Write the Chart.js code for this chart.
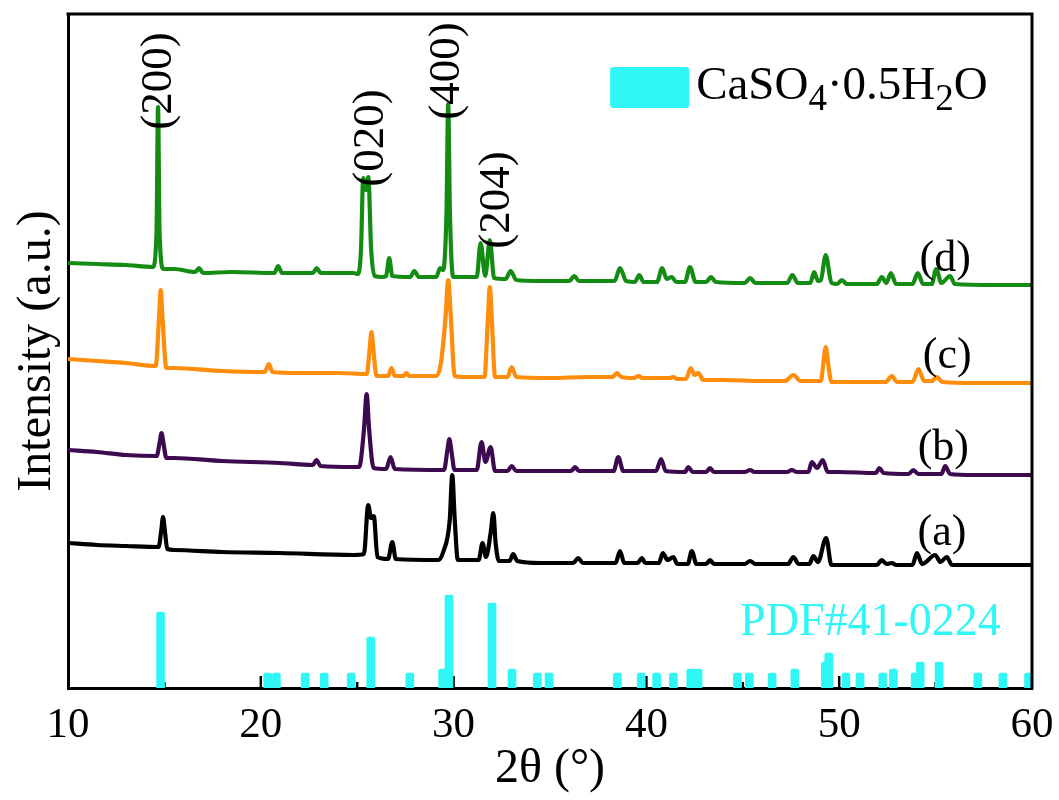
<!DOCTYPE html>
<html>
<head>
<meta charset="utf-8">
<script src="https://cdn.jsdelivr.net/npm/chart.js@4.4.1/dist/chart.umd.min.js"></script>
<style>
  body { margin: 0; background: #fff; }
</style>
</head>
<body>
<canvas id="xrd" width="1059" height="800"></canvas>
<script>
// 2theta (deg) / intensity (a.u., already stacked)
const sampleA = [[10,145],[11.5,143],[13,142],[14.7,141],[14.84,158],[14.93,171],[15.02,158],[15.15,139],[15.5,138],[18,136],[21,135],[24.8,133],[25.35,134],[25.57,183],[25.72,170],[25.86,172],[26.05,131],[26.6,129],[26.82,146],[27.0,129],[29.2,128],[29.46,136],[29.8,168],[29.93,213],[30.06,168],[30.22,128],[31.3,128],[31.5,145],[31.68,131],[31.92,155],[32.06,175],[32.18,145],[32.35,127],[32.9,127],[33.09,134],[33.3,127],[34.5,125],[36.2,125],[36.47,130],[36.7,125],[38.4,125],[38.63,137],[38.85,125],[39.55,125],[39.76,130],[39.95,125],[40.65,125],[40.85,135],[41.1,128],[41.4,131],[41.6,124],[42.15,124],[42.35,137],[42.6,124],[43.1,124],[43.3,128],[43.5,124],[45.1,124],[45.38,127],[45.65,124],[47.35,124],[47.62,131],[47.9,124],[48.45,124],[48.66,132],[48.9,126],[49.32,150],[49.6,123],[50.5,123],[51.95,123],[52.21,128],[52.45,124],[52.73,125],[52.95,123],[53.8,123],[54.03,135],[54.3,124],[54.98,133],[55.25,126],[55.58,131],[55.85,123],[57,123],[60,123]]

const sampleB = [[10,238],[11.5,236],[13,233],[14.6,232],[14.75,245],[14.85,255],[14.95,245],[15.1,230],[15.5,230],[18,227],[21,225],[22.7,223],[22.89,228],[23.1,222],[24.8,221],[25.1,221],[25.35,258],[25.49,294],[25.62,258],[25.85,220],[26.5,219],[26.73,231],[26.95,219],[29.5,218],[29.68,238],[29.78,249],[29.88,238],[30.05,218],[31.2,218],[31.45,246],[31.65,226],[31.92,241],[32.15,217],[32.8,217],[33.01,222],[33.25,217],[35,217],[36.1,217],[36.3,221],[36.5,217],[38.3,217],[38.54,231],[38.8,217],[40.5,217],[40.76,229],[41.0,217],[42.0,216],[42.18,221],[42.4,216],[43.1,216],[43.3,220],[43.5,216],[45.1,216],[45.38,218],[45.6,216],[47.3,216],[47.54,218],[47.8,216],[48.4,216],[48.58,226],[48.85,220],[49.15,228],[49.4,216],[50,216],[51.9,215],[52.09,220],[52.3,215],[53.6,214],[53.85,218],[54.1,214],[55.3,214],[55.5,222],[55.75,214],[57,213],[60,213]]

const sampleC = [[10,329],[11.5,327],[13,325],[14.55,322],[14.72,370],[14.81,398],[14.9,370],[15.1,320],[15.5,320],[18,317],[20.2,316],[20.42,324],[20.6,316],[22,315],[24,315],[25.5,314],[25.64,338],[25.74,356],[25.84,338],[26.0,312],[26.6,312],[26.78,320],[26.95,312],[27.4,312],[27.56,315],[27.7,312],[29.1,312],[29.34,325],[29.58,370],[29.72,408],[29.86,370],[30.05,312],[30.5,311],[31.6,311],[31.77,365],[31.88,401],[31.99,365],[32.15,311],[32.8,311],[33.01,321],[33.25,311],[35,310],[37,311],[38.25,311],[38.46,315],[38.7,311],[39.35,310],[39.58,312],[39.8,310],[41.2,310],[41.4,311],[41.6,309],[42.05,309],[42.3,320],[42.5,313],[42.7,315],[42.95,308],[44,308],[46,307],[47.2,307],[47.62,313],[48.0,307],[49.05,307],[49.18,325],[49.3,341],[49.42,325],[49.6,306],[50.5,306],[52.4,306],[52.73,312],[53.0,306],[53.8,306],[54.11,319],[54.4,307],[54.8,307],[55.07,311],[55.35,306],[57,305],[60,305]]

const sampleD = [[10,425],[11.5,424],[13,423],[14.4,421],[14.59,455],[14.67,581],[14.75,455],[14.95,419],[15.5,419],[16.6,416],[16.8,420],[17.0,415],[18.5,416],[20.7,415],[20.9,422],[21.1,415],[22.7,415],[22.9,420],[23.1,415],[24.8,415],[25.05,414],[25.2,440],[25.31,510],[25.45,498],[25.58,511],[25.72,440],[25.9,412],[26.3,411],[26.5,412],[26.66,430],[26.82,412],[27.75,411],[27.96,417],[28.2,411],[29.1,411],[29.3,420],[29.45,418],[29.63,475],[29.72,584],[29.81,475],[29.98,411],[30.5,411],[31.2,411],[31.4,445],[31.64,412],[31.88,448],[32.1,410],[32.7,409],[32.96,417],[33.25,408],[34.5,407],[36.0,407],[36.26,412],[36.5,407],[38.35,407],[38.63,420],[38.95,407],[39.4,406],[39.63,413],[39.85,406],[40.55,406],[40.82,420],[41.05,409],[41.31,411],[41.55,406],[42.0,406],[42.26,421],[42.55,406],[43.1,406],[43.35,411],[43.6,406],[45.1,405],[45.38,410],[45.65,405],[47.3,405],[47.57,413],[47.85,405],[48.5,405],[48.7,416],[48.9,407],[49.05,408],[49.3,433],[49.6,405],[49.9,404],[50.13,408],[50.4,404],[51.95,404],[52.21,411],[52.45,405],[52.68,415],[52.95,404],[53.8,404],[54.08,415],[54.35,404],[54.8,404],[55.03,419],[55.3,405],[55.75,412],[56.0,404],[58,403],[60,403]]

// PDF#41-0224 reference lines: 2theta and relative height
const pdfTheta = [14.80,20.36,20.81,22.30,23.29,24.69,25.70,27.73,29.43,29.76,31.99,33.03,34.34,34.95,38.49,39.73,40.53,41.40,42.30,42.68,44.72,45.34,46.52,47.70,49.28,49.46,50.35,51.08,52.26,52.81,53.94,54.20,55.18,57.19,58.49,59.82]
const pdfHeight = [76,15,15,15,15,15,51,15,19,93,85,19,15,15,15,15,15,15,19,19,15,15,15,19,26,35,15,15,15,19,15,26,26,15,15,15]

const sampleLabels = ['(a)', '(b)', '(c)', '(d)']
const peakLabels = ['(200)', '(020)', '(400)', '(204)']
const xTickLabels = [10, 20, 30, 40, 50, 60]

const serif = "'Times New Roman', 'Liberation Serif', serif"
const cyan = '#30f6f6'

function line(points, color) {
  return {
    type: 'line',
    data: points.map(p => ({x: p[0], y: p[1]})),
    borderColor: color,
    borderWidth: 4.2,
    pointRadius: 0,
    cubicInterpolationMode: 'monotone',
    fill: false
  }
}

const framePlugin = {
  id: 'frame',
  beforeDatasetsDraw(chart) {
    const {ctx, chartArea: a, scales: {x}} = chart
    ctx.save()
    ctx.strokeStyle = '#000'
    ctx.lineWidth = 2.5
    for (let v = 15; v < 60; v += 5) {
      const px = x.getPixelForValue(v)
      const len = v % 10 === 0 ? 12 : 6
      ctx.beginPath()
      ctx.moveTo(px, a.bottom)
      ctx.lineTo(px, a.bottom - len)
      ctx.stroke()
    }
    ctx.restore()
  },
  afterDraw(chart) {
    const {ctx, chartArea: a} = chart
    ctx.save()
    ctx.strokeStyle = '#000'
    ctx.lineWidth = 3
    ctx.beginPath()
    ctx.moveTo(a.left - 1.5, a.top)
    ctx.lineTo(a.right, a.top)
    ctx.lineTo(a.right, a.bottom + 1.5)
    ctx.stroke()
    ctx.restore()
  }
}

const textPlugin = {
  id: 'texts',
  afterDraw(chart) {
    const {ctx, scales: {x, y}} = chart
    ctx.save()
    ctx.fillStyle = '#000'

    // hkl labels, vertical
    const hklPos = [[14.72, 607], [25.71, 550], [29.65, 617], [32.25, 488]]
    ctx.font = '45px ' + serif
    ctx.textAlign = 'center'
    ctx.textBaseline = 'middle'
    peakLabels.forEach((t, i) => {
      ctx.save()
      ctx.translate(x.getPixelForValue(hklPos[i][0]), y.getPixelForValue(hklPos[i][1]))
      ctx.rotate(-Math.PI / 2)
      ctx.fillText(t, 0, 0)
      ctx.restore()
    })

    // sample labels
    const samplePos = [[55.33, 155], [55.4, 240], [55.6, 332], [55.5, 429]]
    ctx.font = '44px ' + serif
    sampleLabels.forEach((t, i) => {
      ctx.fillText(t, x.getPixelForValue(samplePos[i][0]), y.getPixelForValue(samplePos[i][1]))
    })

    // PDF card name
    ctx.fillStyle = cyan
    ctx.textAlign = 'left'
    ctx.textBaseline = 'alphabetic'
    ctx.font = '46px ' + serif
    ctx.fillText('PDF#41-0224', x.getPixelForValue(44.86), y.getPixelForValue(53))

    // legend
    const bx = x.getPixelForValue(38.12), by = y.getPixelForValue(621)
    ctx.beginPath()
    ctx.roundRect(bx, by, 79, 41, 3)
    ctx.fill()
    ctx.fillStyle = '#000'
    let tx = bx + 86
    const ty = by + 32
    const parts = [['CaSO', 0], ['4', 1], ['\u00b70.5H', 0], ['2', 1], ['O', 0]]
    parts.forEach(([t, sub]) => {
      ctx.font = (sub ? '37px ' : '47px ') + serif
      ctx.fillText(t, tx, sub ? ty + 11 : ty)
      tx += ctx.measureText(t).width
    })
    ctx.restore()
  }
}

const ctx = document.getElementById('xrd').getContext('2d')
const xrdChart = new Chart(ctx, {
  type: 'line',
  data: {
    datasets: [
      {
        type: 'bar',
        data: pdfTheta.map((t, i) => ({x: t, y: pdfHeight[i]})),
        backgroundColor: cyan,
        barThickness: 8,
        borderRadius: 2
      },
      line(sampleA, '#000000'),
      line(sampleB, '#3d0a4f'),
      line(sampleC, '#ff8c0a'),
      line(sampleD, '#148c14')
    ]
  },
  options: {
    responsive: false,
    animation: false,
    layout: {padding: {top: 14, right: 27, left: 0, bottom: 0}},
    plugins: {legend: {display: false}, tooltip: {enabled: false}},
    scales: {
      x: {
        type: 'linear',
        min: 10,
        max: 60,
        offset: false,
        afterBuildTicks: s => { s.ticks = xTickLabels.map(v => ({value: v})) },
        ticks: {color: '#000', font: {family: serif, size: 43}, padding: 12, maxRotation: 0},
        grid: {display: false, drawTicks: false},
        border: {color: '#000', width: 3},
        title: {display: true, text: '2\u03b8 (\u00b0)', color: '#000', font: {family: serif, size: 48, lineHeight: 1}, padding: {top: 0, bottom: 7}},
        afterFit: s => { s.height = 112; s.paddingLeft = 0; s.paddingRight = 0 }
      },
      y: {
        min: 0,
        max: 674,
        ticks: {display: false},
        grid: {display: false, drawTicks: false},
        border: {color: '#000', width: 3},
        title: {display: true, text: 'Intensity (a.u.)', color: '#000', font: {family: serif, size: 48, lineHeight: 1}, padding: {top: 13, bottom: 0}},
        afterFit: s => { s.width = 68 }
      }
    }
  },
  plugins: [framePlugin, textPlugin]
})
</script>
</body>
</html>
